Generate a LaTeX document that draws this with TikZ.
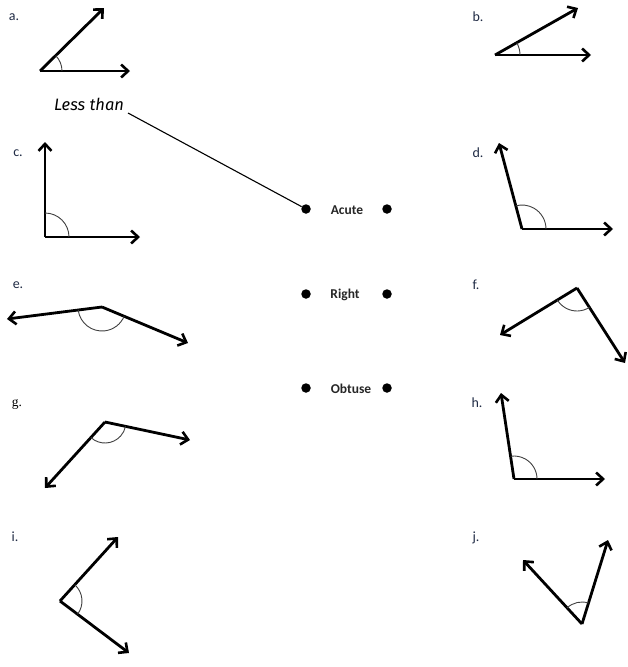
\documentclass[tikz,border=0pt]{standalone}
\usepackage{fontspec}
\setmainfont{Carlito}
\newfontfamily\handfont{Fira Sans}
\newfontfamily\serifletter{Liberation Serif}
\usetikzlibrary{arrows.meta}
\definecolor{labcol}{HTML}{1F2A44}
\tikzset{
  ray/.style={line width=2.8pt,-{Straight Barb[length=7pt,width=13pt,line width=2.6pt]}},
  anglemark/.style={line width=0.9pt,draw=black!75},
  letter/.style={font=\fontsize{14}{16}\selectfont,text=labcol,inner sep=0pt},
  kind/.style={font=\bfseries\fontsize{13.5}{15}\selectfont,text=black!85,inner sep=0pt},
  dot/.style={circle,fill=black,inner sep=0pt,minimum size=9.5pt},
}
\begin{document}
\begin{tikzpicture}[x=1pt,y=1pt]
\useasboundingbox (0,0) rectangle (628,-667);
% labels
\node[letter] (la) at (14,-17) {a.};
\node[letter] (lb) at (478,-17) {b.};
\node[letter] (lc) at (18,-153) {c.};
\node[letter] (ld) at (478,-153) {d.};
\node[letter] (le) at (18,-285) {e.};
\node[letter] (lf) at (476,-285) {f.};
\node[letter,font=\serifletter\fontsize{13.5}{15}\selectfont,text=black] (lg) at (17,-404) {g.};
\node[letter] (lh) at (477,-403) {h.};
\node[letter] (li) at (15,-537) {i.};
\node[letter] (lj) at (476,-538) {j.};
% a
\coordinate (va) at (40,-71); \coordinate (a1) at (104,-8); \coordinate (a2) at (130,-71);
\draw[ray] (va) -- (a1); \draw[ray] (va) -- (a2);
\draw[anglemark] (va) ++(0:22) arc[start angle=0,end angle=44.5,radius=22];
% b
\coordinate (vb) at (495,-55); \coordinate (b1) at (578,-8); \coordinate (b2) at (591,-55);
\draw[ray] (vb) -- (b1); \draw[ray] (vb) -- (b2);
\draw[anglemark] (vb) ++(0:25) arc[start angle=0,end angle=29.5,radius=25];
% c
\coordinate (vc) at (45,-237); \coordinate (c1) at (45,-142); \coordinate (c2) at (140,-237);
\draw[ray] (vc) -- (c1); \draw[ray] (vc) -- (c2);
\draw[anglemark] (vc) ++(0:24) arc[start angle=0,end angle=90,radius=24];
% d
\coordinate (vd) at (522,-229); \coordinate (d1) at (499,-143); \coordinate (d2) at (613,-229);
\draw[ray] (vd) -- (d1); \draw[ray] (vd) -- (d2);
\draw[anglemark] (vd) ++(0:24) arc[start angle=0,end angle=105,radius=24];
% e
\coordinate (ve) at (102,-307); \coordinate (e1) at (7,-319); \coordinate (e2) at (188,-343);
\draw[ray] (ve) -- (e1); \draw[ray] (ve) -- (e2);
\draw[anglemark] (ve) ++(187.2:24) arc[start angle=187.2,end angle=337.3,radius=24];
% f
\coordinate (vf) at (577,-288); \coordinate (f1) at (500,-335); \coordinate (f2) at (625,-363);
\draw[ray] (vf) -- (f1); \draw[ray] (vf) -- (f2);
\draw[anglemark] (vf) ++(211.4:23) arc[start angle=211.4,end angle=302.6,radius=23];
% g
\coordinate (vg) at (105,-422); \coordinate (g1) at (190,-440); \coordinate (g2) at (45,-488);
\draw[ray] (vg) -- (g1); \draw[ray] (vg) -- (g2);
\draw[anglemark] (vg) ++(227.7:21) arc[start angle=227.7,end angle=348,radius=21];
% h
\coordinate (vh) at (514,-479); \coordinate (h1) at (501,-393); \coordinate (h2) at (605,-479);
\draw[ray] (vh) -- (h1); \draw[ray] (vh) -- (h2);
\draw[anglemark] (vh) ++(0:23) arc[start angle=0,end angle=98.6,radius=23];
% i
\coordinate (vi) at (60,-601); \coordinate (i1) at (118,-537); \coordinate (i2) at (129,-653);
\draw[ray] (vi) -- (i1); \draw[ray] (vi) -- (i2);
\draw[anglemark] (vi) ++(-37:22) arc[start angle=-37,end angle=47.8,radius=22];
% j
\coordinate (vj) at (582,-624); \coordinate (j1) at (523,-560); \coordinate (j2) at (608,-540);
\draw[ray] (vj) -- (j1); \draw[ray] (vj) -- (j2);
\draw[anglemark] (vj) ++(72.8:22) arc[start angle=72.8,end angle=132.7,radius=22];
% middle column
\node[dot] (al) at (306,-209) {}; \node[kind] (acute) at (347,-210) {Acute}; \node[dot] (ar) at (387,-209) {};
\node[dot] (rl) at (306,-294) {}; \node[kind] (right) at (345,-295) {Right}; \node[dot] (rr) at (387,-294) {};
\node[dot] (ol) at (306,-388) {}; \node[kind] (obtuse) at (351,-389) {Obtuse}; \node[dot] (or) at (387,-388) {};
% handwritten
\node[font=\handfont\itshape\fontsize{16.5}{18}\selectfont,inner sep=1pt] (less) at (89,-104) {Less than};
\coordinate (lstart) at (128,-113);
\draw[line width=1.1pt] (lstart) -- (al);
\end{tikzpicture}
\end{document}
